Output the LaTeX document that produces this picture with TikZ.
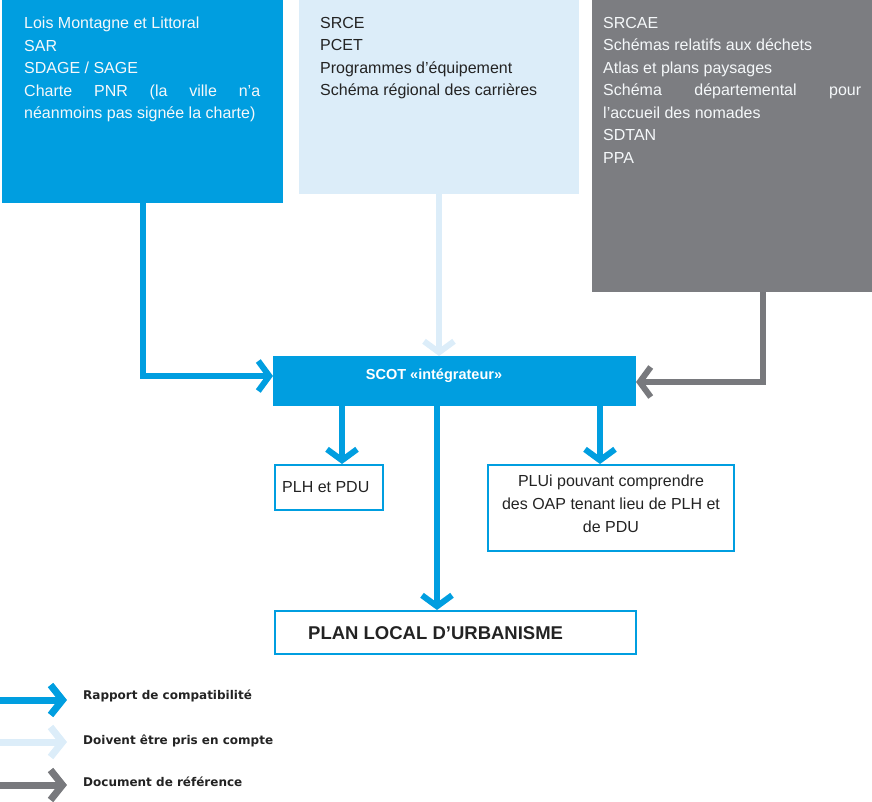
\documentclass[tikz,border=0pt]{standalone}
\usepackage{fontspec}
\setmainfont{Liberation Sans}
\newfontfamily\legfont{DejaVu Sans}
\usetikzlibrary{arrows.meta}
\definecolor{cblue}{RGB}{0,158,224}
\definecolor{clight}{RGB}{220,237,249}
\definecolor{cgray}{RGB}{124,125,129}
\definecolor{cagray}{RGB}{120,121,125}
\definecolor{ctext}{RGB}{35,35,35}
\definecolor{cwhite}{RGB}{245,248,250}
\begin{document}
\begin{tikzpicture}[x=1pt,y=-1pt,
  topbox/.style={anchor=north west, inner sep=0pt, outer sep=0pt, draw=none},
  framebox/.style={anchor=north west, inner sep=0pt, draw=cblue, line width=2pt},
  bodytext/.style={anchor=north west, inner sep=0pt, align=justify, font=\fontsize{16}{22.5}\selectfont},
  arr/.style={line width=6pt, -{Straight Barb[length=11pt,width=30pt]}},
  legarr/.style={line width=7pt, -{Straight Barb[length=12pt,width=30pt]}},
  legtext/.style={anchor=west, inner sep=0pt, text=ctext, font=\legfont\bfseries\fontsize{12}{14}\selectfont}
]
\useasboundingbox (0,0) rectangle (872,801);

% top boxes
\node[topbox, fill=cblue, minimum width=281pt, minimum height=203pt] (b1) at (2,0) {};
\node[topbox, fill=clight, minimum width=280pt, minimum height=194pt] (b2) at (299,0) {};
\node[topbox, fill=cgray, minimum width=280pt, minimum height=292pt] (b3) at (592,0) {};

\node[bodytext, text width=236pt, text=cwhite] (t1) at (24,17) {%
Lois Montagne et Littoral\\
SAR\\
SDAGE / SAGE\\
\hbox to 236pt{Charte\hfill PNR\hfill (la\hfill ville\hfill n’a}\\
néanmoins pas signée la charte)};

\node[bodytext, text width=250pt, text=ctext] (t2) at (320,17) {%
SRCE\\
PCET\\
Programmes d’équipement\\
Schéma régional des carrières};

\node[bodytext, text width=258pt, text=cwhite] (t3) at (603,17) {%
SRCAE\\
Schémas relatifs aux déchets\\
Atlas et plans paysages\\
\hbox to 258pt{Schéma\hfill départemental\hfill pour}\\
l’accueil des nomades\\
SDTAN\\
PPA};

% SCOT
\node[topbox, fill=cblue, minimum width=363pt, minimum height=50pt] (scot) at (273,356) {};
\node[inner sep=0pt, text=white, font=\bfseries\fontsize{14.5}{17}\selectfont] (scott) at (434,376) {SCOT «intégrateur»};

% lower boxes
\node[framebox, minimum width=108pt, minimum height=45pt] (plh) at (274,464) {};
\node[anchor=west, inner sep=0pt, text=ctext, font=\fontsize{16}{20}\selectfont] (plht) at (282,487) {PLH et PDU};

\node[framebox, minimum width=246pt, minimum height=86pt] (plui) at (487,464) {};
\node[inner sep=0pt, align=center, text=ctext, font=\fontsize{16}{23}\selectfont] (pluit) at (611,504) {PLUi pouvant comprendre\\des OAP tenant lieu de PLH et\\de PDU};

\node[framebox, minimum width=361pt, minimum height=43pt] (plu) at (274,610) {};
\node[anchor=west, inner sep=0pt, text=ctext, font=\bfseries\fontsize{18.5}{22}\selectfont] (plut) at (308,633) {PLAN LOCAL D’URBANISME};

% helper coordinates
\coordinate (xa) at (342,0);
\coordinate (xb) at (437,0);
\coordinate (xc) at (600,0);
\coordinate (xg) at (763,0);
\coordinate (ya) at (0,376);
\coordinate (yg) at (0,382);

% connectors into SCOT
\draw[arr, cblue, line join=miter] (b1.south) |- (scot.west |- ya);
\draw[arr, clight] (b2.south) -- (b2.south |- scot.north);
\draw[arr, cagray, line join=miter] (b3.south -| xg) |- (scot.east |- yg);

% connectors out of SCOT
\draw[arr, cblue] (scot.south -| xa) -- (plh.north -| xa);
\draw[arr, cblue] (scot.south -| xc) -- (plui.north -| xc);
\draw[arr, cblue] (scot.south -| xb) -- (plu.north -| xb);

% legend
\coordinate (l1s) at (0,700); \coordinate (l1e) at (67,700);
\coordinate (l2s) at (0,742); \coordinate (l2e) at (67,742);
\coordinate (l3s) at (0,785); \coordinate (l3e) at (67,785);
\draw[legarr, cblue] (l1s) -- (l1e);
\draw[legarr, clight] (l2s) -- (l2e);
\draw[legarr, cagray] (l3s) -- (l3e);
\node[legtext] (lg1) at (83,696) {Rapport de compatibilité};
\node[legtext] (lg2) at (83,741) {Doivent être pris en compte};
\node[legtext] (lg3) at (83,782) {Document de référence};
\end{tikzpicture}
\end{document}
